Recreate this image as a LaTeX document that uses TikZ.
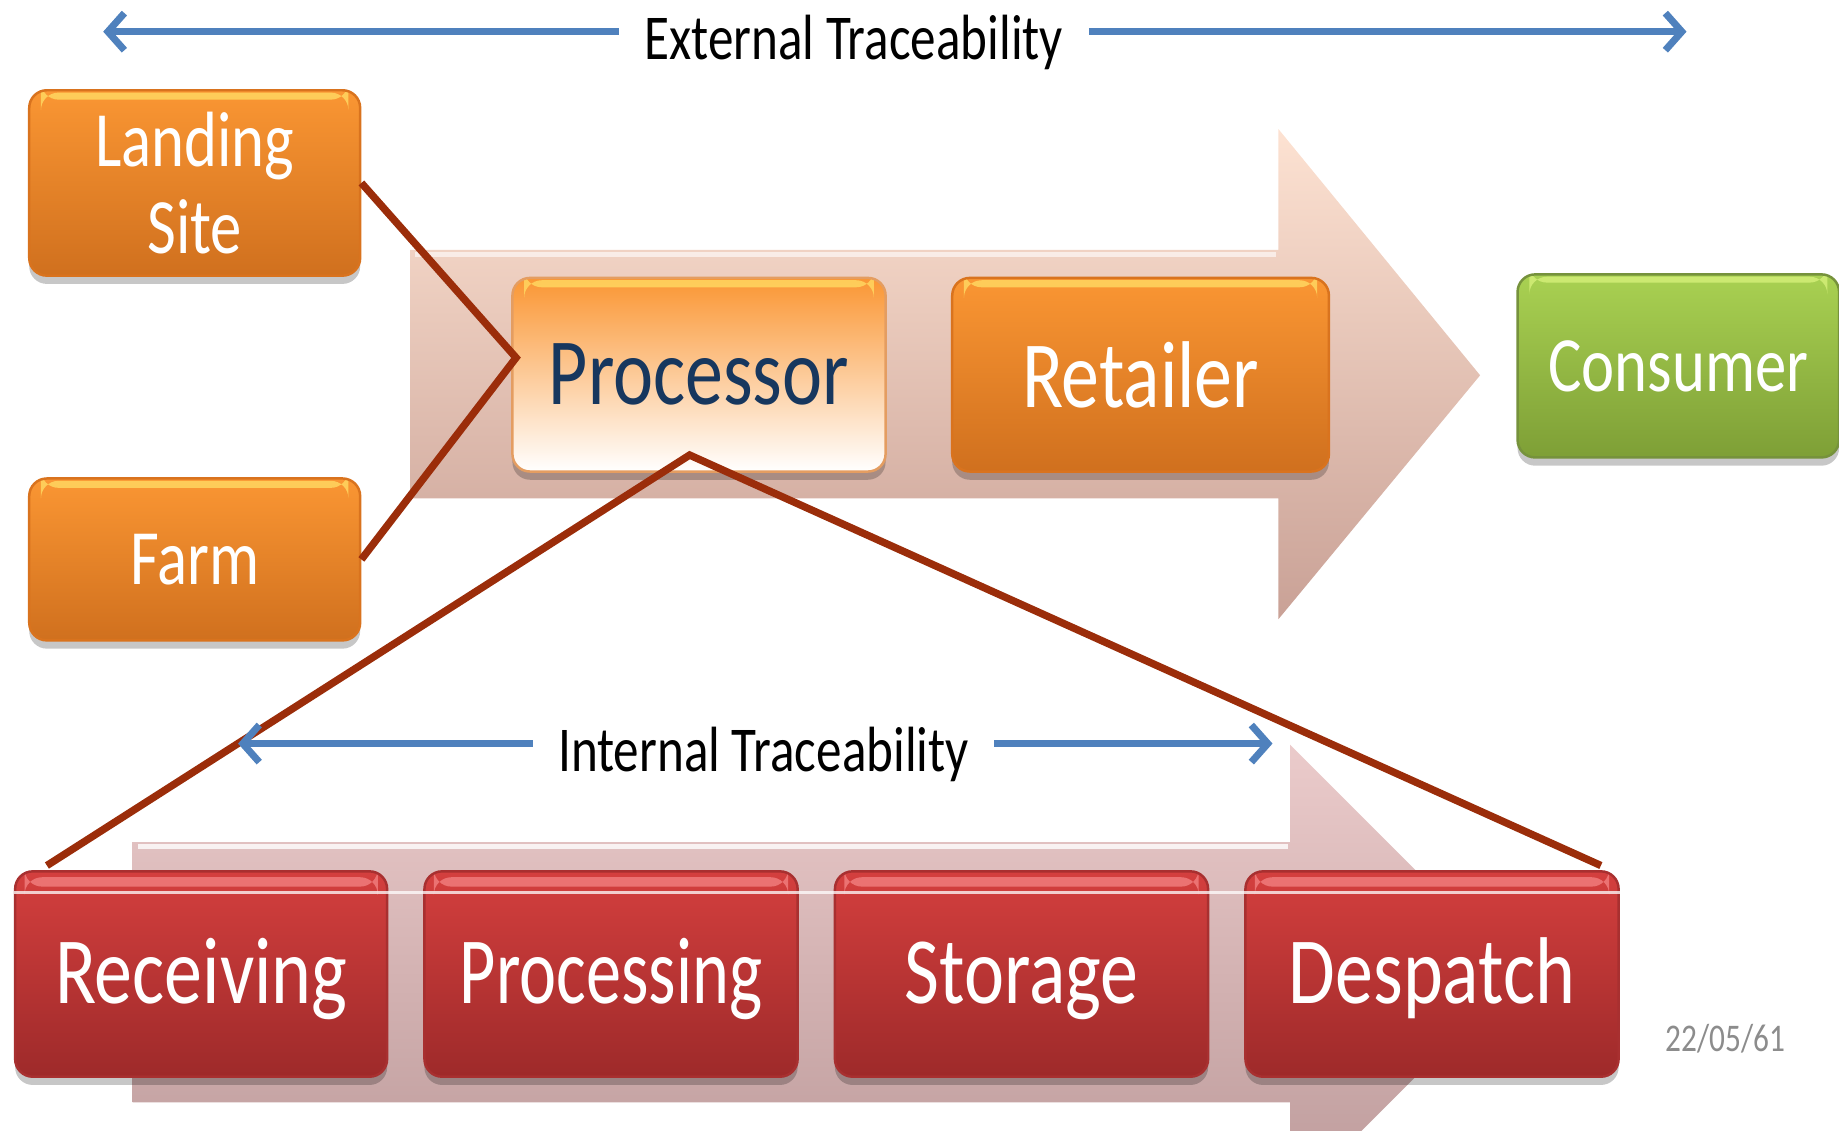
\documentclass[tikz,border=0pt]{standalone}
\usepackage{fontspec}
\setmainfont{Carlito}
\newfontfamily\sq[FakeStretch=0.8]{Carlito}
\newfontfamily\sqn[FakeStretch=0.74]{Carlito}
\usetikzlibrary{arrows.meta,shadows,calc}
\definecolor{orangetop}{HTML}{FA9633}
\definecolor{orangebot}{HTML}{D0701E}
\definecolor{orangeline}{HTML}{D9731E}
\definecolor{greentop}{HTML}{A9D152}
\definecolor{greenbot}{HTML}{7E9F36}
\definecolor{greenline}{HTML}{76923C}
\definecolor{redtop}{HTML}{D43F3E}
\definecolor{redbot}{HTML}{9E2A2A}
\definecolor{redline}{HTML}{A83030}
\definecolor{navy}{HTML}{17375E}
\definecolor{brownl}{HTML}{9B2D0A}
\definecolor{bluel}{HTML}{4F81BD}
\definecolor{arrtop}{HTML}{FDE2D2}
\definecolor{arrbot}{HTML}{C9A196}
\definecolor{arr2top}{HTML}{EBCBCB}
\definecolor{arr2bot}{HTML}{BC9A9A}
\definecolor{dategray}{HTML}{8C8C8C}
\definecolor{hiyellow}{HTML}{FFD660}
\definecolor{hired}{HTML}{F28080}
\definecolor{higreen}{HTML}{D6F07A}
\tikzset{
  box/.style={rounded corners=0.15cm, draw=#1, line width=0.6pt,
    drop shadow={shadow xshift=0pt,shadow yshift=-2pt,opacity=0.22,fill=black},
    inner sep=0pt, align=center},
  orangebox/.style={box=orangeline, top color=orangetop, bottom color=orangebot, text=white,
    path picture={\fill[hiyellow, opacity=0.85]
      ([xshift=0.1cm,yshift=-0.02cm]path picture bounding box.north west) rectangle
      ([xshift=-0.1cm,yshift=-0.08cm]path picture bounding box.north east);}},
  procbox/.style={box=orangeline!70, top color=orangetop, middle color=orangetop!55!white, bottom color=white, text=navy,
    path picture={\fill[hiyellow, opacity=0.85]
      ([xshift=0.1cm,yshift=-0.02cm]path picture bounding box.north west) rectangle
      ([xshift=-0.1cm,yshift=-0.08cm]path picture bounding box.north east);}},
  greenbox/.style={box=greenline, top color=greentop, bottom color=greenbot, text=white,
    path picture={\fill[higreen, opacity=0.8]
      ([xshift=0.1cm,yshift=-0.02cm]path picture bounding box.north west) rectangle
      ([xshift=-0.1cm,yshift=-0.07cm]path picture bounding box.north east);}},
  redbox/.style={box=redline, top color=redtop, bottom color=redbot, text=white,
    text height=19pt, text depth=4.7pt,
    path picture={\fill[hired, opacity=0.8]
      ([xshift=0.08cm,yshift=-0.05cm]path picture bounding box.north west) rectangle
      ([xshift=-0.08cm,yshift=-0.13cm]path picture bounding box.north east);}},
  bigtxt/.style={font=\sq\fontsize{23}{26}\selectfont},
  midtxt/.style={font=\sq\fontsize{19}{21}\selectfont},
  trace/.style={font=\sq\fontsize{15.5}{18}\selectfont, text=black, inner xsep=6pt, inner ysep=0pt},
  brownline/.style={draw=brownl, line width=1.8pt, line join=miter},
  bluearrow/.style={draw=bluel, line width=1.7pt, -{Straight Barb[length=4pt,width=9pt,line width=1.7pt]}},
}
\begin{document}
\begin{tikzpicture}[x=0.01cm,y=-0.01cm]
\useasboundingbox (0,0) rectangle (1568,964);
\begin{scope}
\clip (0,0) rectangle (1568,964);
% big background arrows
\path[top color=arrtop, bottom color=arrbot]
  (350,213) -- (1090,213) -- (1090,110) -- (1262,320) -- (1090,528) -- (1090,425) -- (350,425) -- cycle;
\draw[white, line width=1.2pt, opacity=0.6] (354,217) -- (1088,217);
\path[top color=arr2top, bottom color=arr2bot]
  (113,718) -- (1100,718) -- (1100,635) -- (1295,830) -- (1100,1025) -- (1100,940) -- (113,940) -- cycle;
\draw[white, line width=1.2pt, opacity=0.8] (118,722) -- (1098,722);
\end{scope}

% upper boxes
\node[orangebox, midtxt, minimum width=2.82cm, minimum height=1.58cm] (land) at (166,156) {Landing\\Site};
\node[orangebox, midtxt, minimum width=2.82cm, minimum height=1.38cm] (farm) at (166,477) {Farm};
\node[procbox, bigtxt, minimum width=3.18cm, minimum height=1.65cm] (proc) at (596,319.5) {Processor};
\node[orangebox, bigtxt, minimum width=3.21cm, minimum height=1.65cm] (ret) at (972.5,319.5) {Retailer};
\node[greenbox, midtxt, minimum width=2.74cm, minimum height=1.56cm] (cons) at (1431,312) {Consumer};

% lower boxes
\node[redbox, bigtxt, minimum width=3.17cm, minimum height=1.75cm] (recv) at (171.5,830.5) {Receiving};
\node[redbox, bigtxt, font=\sqn\fontsize{23}{26}\selectfont, minimum width=3.18cm, minimum height=1.75cm] (procg) at (521,830.5) {Processing};
\node[redbox, bigtxt, minimum width=3.18cm, minimum height=1.75cm] (stor) at (871,830.5) {Storage};
\node[redbox, bigtxt, minimum width=3.18cm, minimum height=1.75cm] (desp) at (1221,830.5) {Despatch};
\draw[white, line width=0.8pt, opacity=0.75] ([yshift=-0.19cm]recv.north west) -- ([yshift=-0.19cm]desp.north east);

% brown connectors
\coordinate (pin) at (440,305);
\coordinate (pout) at (588,388);
\coordinate (lend) at (40,738);
\coordinate (rend) at (1365,738);
\draw[brownline] (land.east) -- (pin) -- (farm.east);
\draw[brownline] (lend) -- (pout) -- (rend);

% traceability arrows
\node[trace] (ext) at (728,36) {External Traceability};
\coordinate (eL) at (88,27);
\coordinate (eR) at (1438,27);
\draw[bluearrow] (ext.west |- eL) -- (eL);
\draw[bluearrow] (ext.east |- eR) -- (eR);

\node[trace] (int) at (651,643) {Internal Traceability};
\coordinate (iL) at (203,634);
\coordinate (iR) at (1085,634);
\draw[bluearrow] (int.west |- iL) -- (iL);
\draw[bluearrow] (int.east |- iR) -- (iR);

% date
\node[font=\sq\fontsize{9.5}{11}\selectfont, text=dategray] (date) at (1471,886) {22/05/61};
\end{tikzpicture}
\end{document}
